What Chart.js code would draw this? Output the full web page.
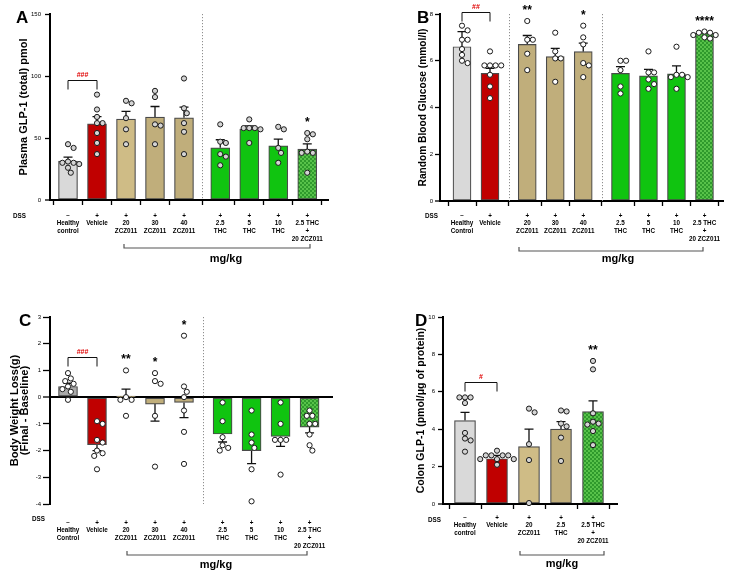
<!DOCTYPE html>
<html>
<head>
<meta charset="utf-8">
<script src="https://cdn.jsdelivr.net/npm/chart.js@4.4.1/dist/chart.umd.min.js"></script>
<style>
  html, body { margin: 0; padding: 0; background: #fff; }
  #wrap { position: relative; width: 729px; height: 572px; }
  #wrap canvas { position: absolute; left: 0; top: 0; }
</style>
</head>
<body>
<div id="wrap">
  <canvas id="chartA" width="729" height="572"></canvas>
  <canvas id="chartB" width="729" height="572"></canvas>
  <canvas id="chartC" width="729" height="572"></canvas>
  <canvas id="chartD" width="729" height="572"></canvas>
</div>
<script>
var FONT = "'Liberation Sans', Arial, sans-serif";

// ---- A: plasma GLP-1 ----
var labelsA = [['Healthy', 'control'], ['Vehicle'], ['20', 'ZCZ011'], ['30', 'ZCZ011'], ['40', 'ZCZ011'], ['2.5', 'THC'], ['5', 'THC'], ['10', 'THC'], ['2.5 THC', '+', '20 ZCZ011']];
var dssA = ['\u2212', '+', '+', '+', '+', '+', '+', '+', '+'];
var groupA = [0, 0, 0, 0, 0, 1, 1, 1, 1];
var meanA = [31.4, 61.4, 65.2, 66.8, 66.3, 42.1, 57.2, 43.7, 41.0];
var semA = [3.2, 5.9, 6.2, 8.6, 8.6, 6.5, 2.6, 5.4, 4.3];
var dotsA = [
  [45, 42, 31, 30, 30, 29, 26, 22],
  [85, 73, 67, 62, 62, 54, 46, 37],
  [80, 78, 66, 57, 45],
  [88, 83, 61, 60, 45],
  [98, 74, 70, 62, 55, 37],
  [61, 47, 46, 37, 35, 28],
  [65, 58, 58, 58, 57, 46],
  [59, 57, 42, 38, 30],
  [54, 53, 49, 39, 38, 38, 22]
];
var starsA = ['', '', '', '', '', '', '', '', '*'];
var yTicksA = [0, 50, 100, 150];

// ---- B: random blood glucose ----
var labelsB = [['Healthy', 'Control'], ['Vehicle'], ['20', 'ZCZ011'], ['30', 'ZCZ011'], ['40', 'ZCZ011'], ['2.5', 'THC'], ['5', 'THC'], ['10', 'THC'], ['2.5 THC', '+', '20 ZCZ011']];
var dssB = ['\u2212', '+', '+', '+', '+', '+', '+', '+', '+'];
var groupB = [0, 0, 1, 1, 1, 2, 2, 2, 2];
var meanB = [6.6, 5.46, 6.7, 6.18, 6.39, 5.46, 5.35, 5.44, 7.18];
var semB = [0.65, 0.22, 0.38, 0.35, 0.36, 0.29, 0.28, 0.34, 0.05];
var dotsB = [
  [7.5, 7.3, 6.9, 6.9, 6.5, 6.25, 6.0, 5.9],
  [6.4, 5.8, 5.8, 5.8, 5.8, 5.4, 4.9, 4.4],
  [7.7, 6.9, 6.9, 6.3, 5.6],
  [7.2, 6.4, 6.1, 6.1, 5.1],
  [7.5, 7.0, 6.7, 5.9, 5.8, 5.3],
  [6.0, 6.0, 5.6, 4.9, 4.6],
  [6.4, 5.5, 5.5, 5.2, 5.0, 4.8],
  [6.6, 5.4, 5.4, 5.3, 5.3, 4.8],
  [7.25, 7.2, 7.2, 7.1, 7.1, 7.0, 6.95]
];
var starsB = ['', '', '**', '', '*', '', '', '', '****'];
var yTicksB = [0, 2, 4, 6, 8];

// ---- C: body weight loss ----
var labelsC = [['Healthy', 'Control'], ['Vehicle'], ['20', 'ZCZ011'], ['30', 'ZCZ011'], ['40', 'ZCZ011'], ['2.5', 'THC'], ['5', 'THC'], ['10', 'THC'], ['2.5 THC', '+', '20 ZCZ011']];
var dssC = ['\u2212', '+', '+', '+', '+', '+', '+', '+', '+'];
var groupC = [0, 0, 0, 0, 0, 1, 1, 1, 1];
var meanC = [0.4, -1.78, 0.02, -0.26, -0.2, -1.38, -2.0, -1.47, -1.12];
var semC = [0.12, 0.22, 0.28, 0.64, 0.57, 0.3, 0.49, 0.37, 0.22];
var dotsC = [
  [0.9, 0.7, 0.6, 0.5, 0.4, 0.3, 0.2, -0.1],
  [-0.9, -1.0, -1.6, -1.7, -2.0, -2.1, -2.2, -2.7],
  [1.0, 0.0, -0.1, -0.1, -0.7],
  [0.9, 0.6, 0.5, -0.7, -2.6],
  [2.3, 0.4, 0.2, 0.0, -0.5, -1.3, -2.5],
  [-0.2, -0.9, -1.5, -1.8, -1.9, -2.0],
  [-0.5, -1.4, -1.7, -1.9, -2.7, -3.9],
  [-0.2, -1.0, -1.6, -1.6, -1.6, -2.9],
  [-0.5, -0.7, -0.7, -1.0, -1.0, -1.4, -1.8, -2.0]
];
var starsC = ['', '', '**', '*', '*', '', '', '', ''];
var yTicksC = [-4, -3, -2, -1, 0, 1, 2, 3];

// ---- D: colon GLP-1 ----
var labelsD = [['Healthy', 'control'], ['Vehicle'], ['20', 'ZCZ011'], ['2.5', 'THC'], ['2.5 THC', '+', '20 ZCZ011']];
var dssD = ['\u2212', '+', '+', '+', '+'];
var groupD = [0, 0, 0, 0, 0];
var meanD = [4.46, 2.42, 3.07, 4.0, 4.94];
var semD = [0.44, 0.18, 0.93, 0.4, 0.57];
var dotsD = [
  [5.7, 5.7, 5.7, 5.4, 3.8, 3.5, 3.4, 2.8],
  [2.85, 2.6, 2.6, 2.6, 2.6, 2.4, 2.4, 2.4, 2.1],
  [5.1, 4.9, 3.2, 2.35, 0.05],
  [5.0, 4.95, 4.3, 4.15, 3.55, 2.3],
  [7.65, 7.2, 4.85, 4.4, 4.3, 4.25, 3.9, 3.15]
];
var starsD = ['', '', '', '', '**'];
var yTicksD = [0, 2, 4, 6, 8, 10];

// checkered green fill of the combination bar
function checker() {
  var c = document.createElement('canvas');
  c.width = 4; c.height = 4;
  var g = c.getContext('2d');
  g.fillStyle = '#58c24a';
  g.fillRect(0, 0, 4, 4);
  g.fillStyle = '#2f9a2c';
  g.fillRect(0, 0, 2, 2);
  g.fillRect(2, 2, 2, 2);
  return g.createPattern(c, 'repeat');
}
var combo = checker();
var GREY = '#d9d9d9', RED = '#c00000', TAN1 = '#cfbc86', TAN2 = '#c0ae7b', GREEN = '#10c410';

// simple beeswarm: horizontal pixel offsets so dots do not overlap too much
function swarm(vals, pxPerUnit, d) {
  var placed = [], out = [];
  var order = vals.map(function (v, i) { return i; }).sort(function (a, b) { return vals[b] - vals[a]; });
  order.forEach(function (i) {
    var py = vals[i] * pxPerUnit;
    for (var k = 0; k < 40; k++) {
      var off = (k % 2 ? 1 : -1) * Math.ceil(k / 2) * d / 2;
      var ok = placed.every(function (q) { return Math.hypot(q.x - off, q.y - py) >= d; });
      if (ok) { placed.push({ x: off, y: py }); out[i] = off; break; }
    }
  });
  return out;
}

function makePanel(id, p) {
  var a = p.area;
  var XH = 50;
  p.pos = p.groups.map(function (g, i) { return i + g * p.gap; });
  var xMin = -(p.firstX - a.l) / p.spacing;
  var xMax = xMin + (a.r - a.l) / p.spacing;
  var yPx = (a.b - a.t) / (p.yTicks[p.yTicks.length - 1] - p.yTicks[0]);
  var yW = p.titleX - a.l < 0 ? a.l - (p.titleX - p.titleSize * p.titleLH / 2) : 30;

  var barData = p.mean.map(function (m, i) { return { x: p.pos[i], y: m }; });
  var dotData = [];
  p.dots.forEach(function (vals, i) {
    var offs = swarm(vals, yPx, 5.6);
    vals.forEach(function (v, j) { dotData.push({ x: p.pos[i] + offs[j] / p.spacing, y: v }); });
  });

  var plugin = {
    id: 'panel',
    beforeDatasetsDraw: function (chart) {
      var ctx = chart.ctx, xs = chart.scales.x, ys = chart.scales.y, ca = chart.chartArea;
      ctx.save();
      ctx.strokeStyle = '#8f8f8f';
      ctx.lineWidth = 1;
      ctx.setLineDash([1.2, 1.8]);
      for (var i = 1; i < p.pos.length; i++) {
        if (p.groups[i] !== p.groups[i - 1]) {
          var x = Math.round(xs.getPixelForValue((p.pos[i] + p.pos[i - 1]) / 2)) + 0.5;
          ctx.beginPath(); ctx.moveTo(x, ca.top); ctx.lineTo(x, ca.bottom); ctx.stroke();
        }
      }
      ctx.setLineDash([]);
      // error bars (SEM, pointing away from zero)
      ctx.strokeStyle = '#111';
      ctx.lineWidth = 1.3;
      p.mean.forEach(function (m, i) {
        var x = xs.getPixelForValue(p.pos[i]);
        var end = m >= 0 ? m + p.sem[i] : m - p.sem[i];
        var y0 = ys.getPixelForValue(m), y1 = ys.getPixelForValue(end);
        ctx.beginPath();
        ctx.moveTo(x, y0); ctx.lineTo(x, y1);
        ctx.moveTo(x - 4.5, y1); ctx.lineTo(x + 4.5, y1);
        ctx.stroke();
      });
      ctx.restore();
    },
    afterDraw: function (chart) {
      var ctx = chart.ctx, xs = chart.scales.x, ys = chart.scales.y;
      ctx.save();
      ctx.fillStyle = '#000';
      ctx.textAlign = 'left';
      ctx.textBaseline = 'alphabetic';
      ctx.font = 'bold 17px ' + FONT;
      ctx.fillText(p.letter[0], p.letter[1], p.letter[2]);

      ctx.font = 'bold 6.3px ' + FONT;
      ctx.textBaseline = 'middle';
      ctx.fillText('DSS', p.dssAt[0], p.dssAt[1]);

      // significance stars
      ctx.textAlign = 'center';
      ctx.textBaseline = 'alphabetic';
      ctx.font = 'bold 12px ' + FONT;
      p.stars.forEach(function (s, i) {
        if (!s) return;
        var m = p.mean[i];
        var top = Math.min(ys.getPixelForValue(Math.max.apply(null, p.dots[i])) - 3,
                           ys.getPixelForValue(m + p.sem[i]));
        ctx.fillText(s, xs.getPixelForValue(p.pos[i]), top - 4);
      });

      // healthy vs vehicle bracket
      var x0 = xs.getPixelForValue(p.pos[0]), x1 = xs.getPixelForValue(p.pos[1]);
      var yb = Math.round(ys.getPixelForValue(p.hash.y)) + 0.5;
      ctx.strokeStyle = '#111';
      ctx.lineWidth = 1;
      ctx.beginPath();
      ctx.moveTo(x0, yb + 9); ctx.lineTo(x0, yb); ctx.lineTo(x1, yb); ctx.lineTo(x1, yb + 9);
      ctx.stroke();
      ctx.fillStyle = '#e00000';
      ctx.font = 'bold 7px ' + FONT;
      ctx.textBaseline = 'middle';
      ctx.fillText(p.hash.text, (x0 + x1) / 2, yb - 5.5);

      // mg/kg bracket
      var b = p.bracket;
      ctx.strokeStyle = '#555';
      ctx.lineWidth = 1.2;
      ctx.beginPath();
      ctx.moveTo(b.x1, b.y - 4); ctx.lineTo(b.x1, b.y); ctx.lineTo(b.x2, b.y); ctx.lineTo(b.x2, b.y - 4);
      ctx.stroke();
      ctx.fillStyle = '#000';
      ctx.font = 'bold 11px ' + FONT;
      ctx.fillText('mg/kg', p.mg[0], p.mg[1]);
      ctx.restore();
    }
  };

  return new Chart(document.getElementById(id), {
    type: 'bar',
    data: {
      datasets: [
        {
          type: 'scatter', order: 1, data: dotData, clip: false,
          pointRadius: 2.6, pointBackgroundColor: p.dotFill,
          pointBorderColor: '#1a1a1a', pointBorderWidth: 1, showLine: false
        },
        {
          type: 'bar', order: 2, data: barData, barThickness: p.barW,
          backgroundColor: p.colors, borderColor: '#4a4a4a', borderWidth: 1.2, borderSkipped: false
        }
      ]
    },
    options: {
      responsive: false,
      animation: false,
      events: [],
      layout: { padding: { left: a.l - yW, top: a.t, right: 729 - a.r, bottom: 572 - a.b - XH } },
      plugins: { legend: { display: false }, tooltip: { enabled: false } },
      scales: {
        x: {
          type: 'linear', min: xMin, max: xMax, offset: false,
          afterBuildTicks: function (s) { s.ticks = p.pos.map(function (v) { return { value: v }; }); },
          afterFit: function (s) { s.height = XH; },
          ticks: {
            autoSkip: false, maxRotation: 0, minRotation: 0, padding: p.xPad, color: '#000',
            font: { family: FONT, size: 6.3, weight: 'bold', lineHeight: 1.22 },
            callback: function (v, i) { return [p.dss[i]].concat(p.labels[i]); }
          },
          grid: { display: p.xAxis, drawOnChartArea: false, tickLength: 5, tickColor: '#000', tickWidth: 1.3 },
          border: { display: p.xAxis, color: '#000', width: 2 }
        },
        y: {
          min: p.yTicks[0], max: p.yTicks[p.yTicks.length - 1],
          afterBuildTicks: function (s) { s.ticks = p.yTicks.map(function (v) { return { value: v }; }); },
          afterFit: function (s) { s.width = yW; },
          ticks: { padding: p.tickPad, color: '#000', font: { family: FONT, size: 6 } },
          grid: {
            drawOnChartArea: !p.xAxis,
            color: function (c) { return c.tick && c.tick.value === 0 ? '#000' : 'rgba(0,0,0,0)'; },
            lineWidth: function (c) { return c.tick && c.tick.value === 0 ? 2 : 1; },
            tickLength: p.tickLen, tickColor: '#000', tickWidth: 1.3
          },
          border: { color: '#000', width: 2 },
          title: {
            display: true, text: p.title, color: '#000', padding: 0,
            font: { family: FONT, size: p.titleSize, weight: 'bold', lineHeight: p.titleLH }
          }
        }
      }
    },
    plugins: [plugin]
  });
}

makePanel('chartA', {
  labels: labelsA, dss: dssA, groups: groupA, mean: meanA, sem: semA, dots: dotsA, stars: starsA, yTicks: yTicksA,
  colors: [GREY, RED, TAN1, TAN2, TAN2, GREEN, GREEN, GREEN, combo], dotFill: '#d4d4d4',
  area: { l: 50, t: 14, r: 328, b: 200 }, firstX: 68, spacing: 29, gap: 0.25, barW: 19,
  tickLen: 5, tickPad: 4, xPad: 7, xAxis: true,
  title: 'Plasma GLP-1 (total) pmol', titleSize: 11, titleLH: 1.2, titleX: 24,
  letter: ['A', 16, 23], dssAt: [13, 216], hash: { text: '###', y: 97 },
  bracket: { x1: 124, x2: 310, y: 248 }, mg: [226, 259]
});

makePanel('chartB', {
  labels: labelsB, dss: dssB, groups: groupB, mean: meanB, sem: semB, dots: dotsB, stars: starsB, yTicks: yTicksB,
  colors: [GREY, RED, TAN2, TAN2, TAN2, GREEN, GREEN, GREEN, combo], dotFill: '#ffffff',
  area: { l: 440, t: 14, r: 723, b: 201 }, firstX: 462, spacing: 28, gap: 0.33, barW: 18,
  tickLen: 5, tickPad: 2, xPad: 6, xAxis: true,
  title: 'Random Blood Glucose (mmol/l)', titleSize: 10.2, titleLH: 1.2, titleX: 423,
  letter: ['B', 417, 23], dssAt: [425, 216], hash: { text: '##', y: 8.1 },
  bracket: { x1: 519, x2: 703, y: 251 }, mg: [618, 259]
});

makePanel('chartC', {
  labels: labelsC, dss: dssC, groups: groupC, mean: meanC, sem: semC, dots: dotsC, stars: starsC, yTicks: yTicksC,
  colors: ['#a9a9a9', RED, TAN2, TAN2, TAN2, GREEN, GREEN, GREEN, combo], dotFill: '#ffffff',
  area: { l: 50, t: 317, r: 333, b: 504 }, firstX: 68, spacing: 29, gap: 0.33, barW: 19,
  tickLen: 7, tickPad: 2, xPad: 10, xAxis: false,
  title: ['Body Weight Loss(g)', '(Final - Baseline)'], titleSize: 11.2, titleLH: 0.9, titleX: 15,
  letter: ['C', 19, 326], dssAt: [32, 519], hash: { text: '###', y: 1.52 },
  bracket: { x1: 127, x2: 307, y: 555 }, mg: [216, 565]
});

makePanel('chartD', {
  labels: labelsD, dss: dssD, groups: groupD, mean: meanD, sem: semD, dots: dotsD, stars: starsD, yTicks: yTicksD,
  colors: [GREY, RED, TAN1, TAN2, combo], dotFill: '#d4d4d4',
  area: { l: 443, t: 317, r: 617, b: 504 }, firstX: 465, spacing: 32, gap: 0, barW: 21,
  tickLen: 5, tickPad: 3, xPad: 5, xAxis: true,
  title: 'Colon GLP-1 (pmol/\u03bcg of protein)', titleSize: 10.5, titleLH: 1.2, titleX: 421,
  letter: ['D', 415, 326], dssAt: [428, 520], hash: { text: '#', y: 6.54 },
  bracket: { x1: 520, x2: 604, y: 555 }, mg: [562, 564]
});
</script>
</body>
</html>
